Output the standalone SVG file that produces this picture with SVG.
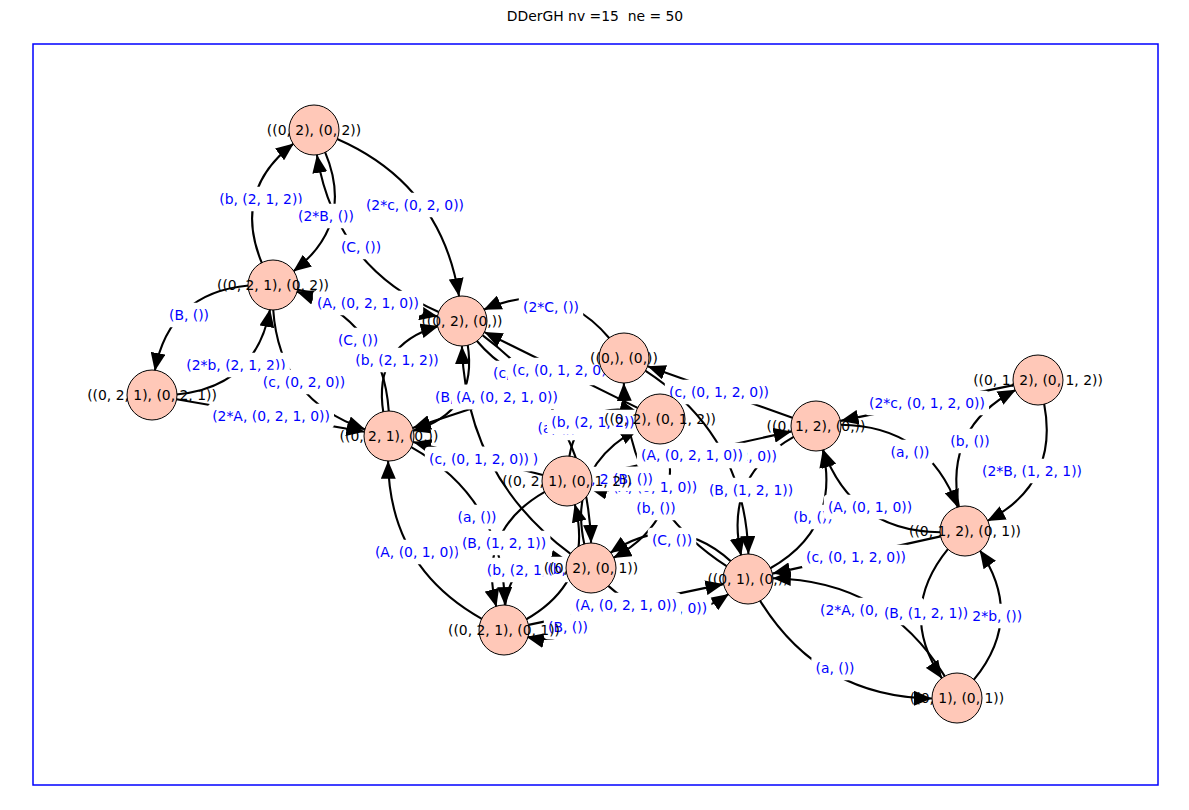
<svg xmlns="http://www.w3.org/2000/svg" width="1189" height="810" viewBox="0 0 1189 810">
<style>
  .ttl { font-family: "DejaVu Sans", "Liberation Sans", sans-serif; font-size: 13.9px; fill: #000; white-space: pre; }
  .e { fill: none; stroke: #000; stroke-width: 2.1; marker-end: url(#ah); }
  .lb { fill: #fff; stroke: none; }
  .lt { font-family: "DejaVu Sans", "Liberation Sans", sans-serif; font-size: 13.9px; fill: #0000ff; text-anchor: middle; }
  .nd { fill: #ffc8b8; stroke: #000; stroke-width: 1; }
  .nt { font-family: "DejaVu Sans", "Liberation Sans", sans-serif; font-size: 13.9px; fill: #000; text-anchor: middle; }
</style>
<defs>
  <marker id="ah" markerUnits="userSpaceOnUse" markerWidth="18" markerHeight="15" viewBox="0 0 18 15" refX="18" refY="7.5" orient="auto">
    <path d="M0,0 L18,7.5 L0,15 z" fill="#000"/>
  </marker>
</defs>
<rect x="0" y="0" width="1189" height="810" fill="#fff"/>
<text class="ttl" x="595" y="21" text-anchor="middle">DDerGH nv =15  ne = 50</text>
<rect x="33" y="44" width="1125" height="741" fill="none" stroke="#0000ff" stroke-width="1.5"/>

<g id="edges">
  <!-- reciprocal pairs: curved -->
  <path class="e" d="M337.2,139 Q441.1,184.4 459,296.2"/>
  <path class="e" d="M438.7,312 Q335,266.6 316.9,154.8"/>
  <path class="e" d="M324.9,151.6 Q355.4,223.9 293.1,271.6"/>
  <path class="e" d="M262,263.4 Q231.7,191.1 293.8,143.4"/>
  <path class="e" d="M248.7,285.5 Q169.4,292.6 154.8,370.9"/>
  <path class="e" d="M176.2,394.5 Q255.6,387.4 270.1,309.1"/>
  <path class="e" d="M273.2,309.5 Q279.3,400.2 365.4,429.4"/>
  <path class="e" d="M388.8,411.5 Q382.7,320.7 296.6,291.6"/>
  <path class="e" d="M383.4,412.8 Q372.5,344.8 438.7,325.9"/>
  <path class="e" d="M467.6,344.2 Q478.6,412.2 412.3,431.1"/>
  <path class="e" d="M609.6,338.5 Q557.3,276.8 483.5,309.8"/>
  <path class="e" d="M476.5,340.5 Q528.7,402.1 602.6,369.2"/>
  <path class="e" d="M482.7,335.3 Q587,412.9 591.1,542.9"/>
  <path class="e" d="M570.3,553.7 Q466,476.1 461.9,346.1"/>
  <path class="e" d="M569.1,457.7 Q579.3,398.6 637.7,411.9"/>
  <path class="e" d="M658,442.3 Q647.8,501.4 589.4,488.1"/>
  <path class="e" d="M666.7,442.3 Q683.7,520.4 613.2,558"/>
  <path class="e" d="M584.4,544.6 Q567.3,466.6 637.9,428.9"/>
  <path class="e" d="M731.2,561.6 Q674,509.9 610,553.1"/>
  <path class="e" d="M607.7,585.4 Q665.1,637.2 728.9,593.9"/>
  <path class="e" d="M505,606.7 Q511.8,548.8 568.7,561.3"/>
  <path class="e" d="M590.1,591.4 Q583.2,649.1 526.4,636.8"/>
  <path class="e" d="M411.2,447.1 Q503.7,499 504.9,605.1"/>
  <path class="e" d="M481.8,618.8 Q389.2,566.9 388.1,460.8"/>
  <path class="e" d="M545.2,491.6 Q476.5,530.6 496.4,607.1"/>
  <path class="e" d="M525.9,619.5 Q594.5,580.4 574.7,504"/>
  <path class="e" d="M645.6,370.8 Q744.9,435.5 748.4,554"/>
  <path class="e" d="M726.6,566.2 Q627.1,501.5 623.8,383"/>
  <path class="e" d="M794.1,436.6 Q723.2,476.4 741.2,555.7"/>
  <path class="e" d="M769.9,568.5 Q840.7,528.6 822.8,449.4"/>
  <path class="e" d="M840.3,424.7 Q927.9,425.4 957.9,507.6"/>
  <path class="e" d="M940.5,532.2 Q853.1,531.5 822.9,449.3"/>
  <path class="e" d="M1044.1,403.5 Q1059.4,483.5 987.2,521.1"/>
  <path class="e" d="M959,507.4 Q943.6,427.6 1015.9,389.8"/>
  <path class="e" d="M973.5,680.2 Q1025.2,617.5 979.7,550.1"/>
  <path class="e" d="M948.3,548.6 Q896.8,611.4 942.1,678.7"/>
  <path class="e" d="M760,600.6 Q819.3,696.8 931.9,698.5"/>
  <path class="e" d="M944.7,676.1 Q885.7,580.3 772.8,578.2"/>
  <!-- single edges: straight -->
  <path class="e" d="M176.6,399.3 L364.4,431.7"/>
  <path class="e" d="M297.6,289.7 L437.4,316.3"/>
  <path class="e" d="M637.6,407.9 L484.4,332.1"/>
  <path class="e" d="M792.4,417.7 L647.6,366.3"/>
  <path class="e" d="M600.3,365.9 L412.7,428.1"/>
  <path class="e" d="M542.8,474.9 L413.2,442.1"/>
  <path class="e" d="M591.4,475.6 L791.6,431.4"/>
  <path class="e" d="M528.5,624.9 L723.5,584.1"/>
  <path class="e" d="M1013.5,385.1 L840.5,420.9"/>
  <path class="e" d="M940.6,536.4 L772.4,573.6"/>
</g>

<g id="edge-labels">
  <rect class="lb" x="361.7" y="192.7" width="106.6" height="24.6" rx="4"/><text class="lt" x="415" y="209.6">(2*c, (0, 2, 0))</text>
  <rect class="lb" x="215" y="186.7" width="92" height="24.6" rx="4"/><text class="lt" x="261" y="203.6">(b, (2, 1, 2))</text>
  <rect class="lb" x="294.5" y="203.7" width="63" height="24.6" rx="4"/><text class="lt" x="326" y="220.6">(2*B, ())</text>
  <rect class="lb" x="336.7" y="234.7" width="48.6" height="24.6" rx="4"/><text class="lt" x="361" y="251.6">(C, ())</text>
  <rect class="lb" x="164.8" y="302.7" width="48.5" height="24.6" rx="4"/><text class="lt" x="189" y="319.6">(B, ())</text>
  <rect class="lb" x="312.9" y="290.7" width="110.3" height="24.6" rx="4"/><text class="lt" x="368" y="307.6">(A, (0, 2, 1, 0))</text>
  <rect class="lb" x="182.2" y="352.7" width="107.7" height="24.6" rx="4"/><text class="lt" x="236" y="369.6">(2*b, (2, 1, 2))</text>
  <rect class="lb" x="258.6" y="369.7" width="90.8" height="24.6" rx="4"/><text class="lt" x="304" y="386.6">(c, (0, 2, 0))</text>
  <rect class="lb" x="207.9" y="403.7" width="126.1" height="24.6" rx="4"/><text class="lt" x="271" y="420.6">(2*A, (0, 2, 1, 0))</text>
  <rect class="lb" x="333.7" y="327.7" width="48.6" height="24.6" rx="4"/><text class="lt" x="358" y="344.6">(C, ())</text>
  <rect class="lb" x="351" y="347.7" width="92" height="24.6" rx="4"/><text class="lt" x="397" y="364.6">(b, (2, 1, 2))</text>
  <rect class="lb" x="518.8" y="294.7" width="64.4" height="24.6" rx="4"/><text class="lt" x="551" y="311.6">(2*C, ())</text>
  <rect class="lb" x="488.8" y="360.7" width="108.4" height="24.6" rx="4"/><text class="lt" x="543" y="377.6">(c, (0, 1, 2, 0))</text>
  <rect class="lb" x="507.8" y="357.7" width="108.4" height="24.6" rx="4"/><text class="lt" x="562" y="374.6">(c, (0, 1, 2, 0))</text>
  <rect class="lb" x="430.8" y="384.7" width="48.5" height="24.6" rx="4"/><text class="lt" x="455" y="401.6">(B, ())</text>
  <rect class="lb" x="451.9" y="384.7" width="110.3" height="24.6" rx="4"/><text class="lt" x="507" y="401.6">(A, (0, 2, 1, 0))</text>
  <rect class="lb" x="664.8" y="379.7" width="108.4" height="24.6" rx="4"/><text class="lt" x="719" y="396.6">(c, (0, 1, 2, 0))</text>
  <rect class="lb" x="533.3" y="415.7" width="47.4" height="24.6" rx="4"/><text class="lt" x="557" y="432.6">(a, ())</text>
  <rect class="lb" x="547" y="409.7" width="92" height="24.6" rx="4"/><text class="lt" x="593" y="426.6">(b, (2, 1, 2))</text>
  <rect class="lb" x="656.9" y="443.7" width="124.2" height="24.6" rx="4"/><text class="lt" x="719" y="460.6">(2*c, (0, 1, 2, 0))</text>
  <rect class="lb" x="636.9" y="442.7" width="110.3" height="24.6" rx="4"/><text class="lt" x="692" y="459.6">(A, (0, 2, 1, 0))</text>
  <rect class="lb" x="449.7" y="446.7" width="92.6" height="24.6" rx="4"/><text class="lt" x="496" y="463.6">(A, (0, 1, 0))</text>
  <rect class="lb" x="424.8" y="446.7" width="108.4" height="24.6" rx="4"/><text class="lt" x="479" y="463.6">(c, (0, 1, 2, 0))</text>
  <rect class="lb" x="548.7" y="466.7" width="92.7" height="24.6" rx="4"/><text class="lt" x="595" y="483.6">(B, (1, 2, 1))</text>
  <rect class="lb" x="608.7" y="474.7" width="92.6" height="24.6" rx="4"/><text class="lt" x="655" y="491.6">(A, (0, 1, 0))</text>
  <rect class="lb" x="608.8" y="466.7" width="48.5" height="24.6" rx="4"/><text class="lt" x="633" y="483.6">(B, ())</text>
  <rect class="lb" x="704.7" y="477.7" width="92.7" height="24.6" rx="4"/><text class="lt" x="751" y="494.6">(B, (1, 2, 1))</text>
  <rect class="lb" x="632.1" y="495.7" width="47.8" height="24.6" rx="4"/><text class="lt" x="656" y="512.6">(b, ())</text>
  <rect class="lb" x="647.7" y="527.7" width="48.6" height="24.6" rx="4"/><text class="lt" x="672" y="544.6">(C, ())</text>
  <rect class="lb" x="789.1" y="504.7" width="47.8" height="24.6" rx="4"/><text class="lt" x="813" y="521.6">(b, ())</text>
  <rect class="lb" x="823.7" y="494.7" width="92.6" height="24.6" rx="4"/><text class="lt" x="870" y="511.6">(A, (0, 1, 0))</text>
  <rect class="lb" x="801.8" y="544.7" width="108.4" height="24.6" rx="4"/><text class="lt" x="856" y="561.6">(c, (0, 1, 2, 0))</text>
  <rect class="lb" x="815.8" y="597.7" width="108.4" height="24.6" rx="4"/><text class="lt" x="870" y="614.6">(2*A, (0, 1, 0))</text>
  <rect class="lb" x="962.8" y="603.7" width="63.5" height="24.6" rx="4"/><text class="lt" x="994.5" y="620.6">(2*b, ())</text>
  <rect class="lb" x="879.7" y="600.7" width="92.7" height="24.6" rx="4"/><text class="lt" x="926" y="617.6">(B, (1, 2, 1))</text>
  <rect class="lb" x="811.3" y="655.7" width="47.4" height="24.6" rx="4"/><text class="lt" x="835" y="672.6">(a, ())</text>
  <rect class="lb" x="977.8" y="458.7" width="108.4" height="24.6" rx="4"/><text class="lt" x="1032" y="475.6">(2*B, (1, 2, 1))</text>
  <rect class="lb" x="946.1" y="428.7" width="47.8" height="24.6" rx="4"/><text class="lt" x="970" y="445.6">(b, ())</text>
  <rect class="lb" x="886.3" y="439.7" width="47.4" height="24.6" rx="4"/><text class="lt" x="910" y="456.6">(a, ())</text>
  <rect class="lb" x="864.9" y="390.7" width="124.2" height="24.6" rx="4"/><text class="lt" x="927" y="407.6">(2*c, (0, 1, 2, 0))</text>
  <rect class="lb" x="453.3" y="504.7" width="47.4" height="24.6" rx="4"/><text class="lt" x="477" y="521.6">(a, ())</text>
  <rect class="lb" x="370.7" y="539.7" width="92.6" height="24.6" rx="4"/><text class="lt" x="417" y="556.6">(A, (0, 1, 0))</text>
  <rect class="lb" x="457.7" y="530.7" width="92.7" height="24.6" rx="4"/><text class="lt" x="504" y="547.6">(B, (1, 2, 1))</text>
  <rect class="lb" x="482.5" y="557.7" width="92" height="24.6" rx="4"/><text class="lt" x="528.5" y="574.6">(b, (2, 1, 2))</text>
  <rect class="lb" x="543.1" y="556.7" width="47.8" height="24.6" rx="4"/><text class="lt" x="567" y="573.6">(b, ())</text>
  <rect class="lb" x="620.6" y="595.7" width="90.8" height="24.6" rx="4"/><text class="lt" x="666" y="612.6">(c, (0, 2, 0))</text>
  <rect class="lb" x="570.9" y="592.7" width="110.3" height="24.6" rx="4"/><text class="lt" x="626" y="609.6">(A, (0, 2, 1, 0))</text>
  <rect class="lb" x="543.8" y="614.7" width="48.5" height="24.6" rx="4"/><text class="lt" x="568" y="631.6">(B, ())</text>
</g>

<g id="n1"><circle class="nd" cx="314" cy="130" r="25"/></g>
<g id="n2"><circle class="nd" cx="273" cy="285" r="25"/></g>
<g id="n3"><circle class="nd" cx="152" cy="395" r="25"/></g>
<g id="n4"><circle class="nd" cx="462" cy="321" r="25"/></g>
<g id="n5"><circle class="nd" cx="624" cy="358" r="25"/></g>
<g id="n6"><circle class="nd" cx="660" cy="419" r="25"/></g>
<g id="n7"><circle class="nd" cx="389" cy="436" r="25"/></g>
<g id="n8"><circle class="nd" cx="567" cy="481" r="25"/></g>
<g id="n9"><circle class="nd" cx="591" cy="568" r="25"/></g>
<g id="n10"><circle class="nd" cx="504" cy="630" r="25"/></g>
<g id="n11"><circle class="nd" cx="748" cy="579" r="25"/></g>
<g id="n12"><circle class="nd" cx="816" cy="426" r="25"/></g>
<g id="n13"><circle class="nd" cx="1038" cy="380" r="25"/></g>
<g id="n14"><circle class="nd" cx="965" cy="531" r="25"/></g>
<g id="n15"><circle class="nd" cx="957" cy="698" r="25"/></g>

<g id="node-labels">
  <text class="nt" x="314" y="134.6">((0, 2), (0, 2))</text>
  <text class="nt" x="273" y="289.6">((0, 2, 1), (0, 2))</text>
  <text class="nt" x="152" y="399.6">((0, 2, 1), (0, 2, 1))</text>
  <text class="nt" x="462" y="325.6">((0, 2), (0,))</text>
  <text class="nt" x="624" y="362.6">((0,), (0,))</text>
  <text class="nt" x="660" y="423.6">((0, 2), (0, 1, 2))</text>
  <text class="nt" x="389" y="440.6">((0, 2, 1), (0,))</text>
  <text class="nt" x="567" y="485.6">((0, 2, 1), (0, 1, 2))</text>
  <text class="nt" x="591" y="572.6">((0, 2), (0, 1))</text>
  <text class="nt" x="504" y="634.6">((0, 2, 1), (0, 1))</text>
  <text class="nt" x="748" y="583.6">((0, 1), (0,))</text>
  <text class="nt" x="816" y="430.6">((0, 1, 2), (0,))</text>
  <text class="nt" x="1038" y="384.6">((0, 1, 2), (0, 1, 2))</text>
  <text class="nt" x="965" y="535.6">((0, 1, 2), (0, 1))</text>
  <text class="nt" x="957" y="702.6">((0, 1), (0, 1))</text>
</g>
</svg>
